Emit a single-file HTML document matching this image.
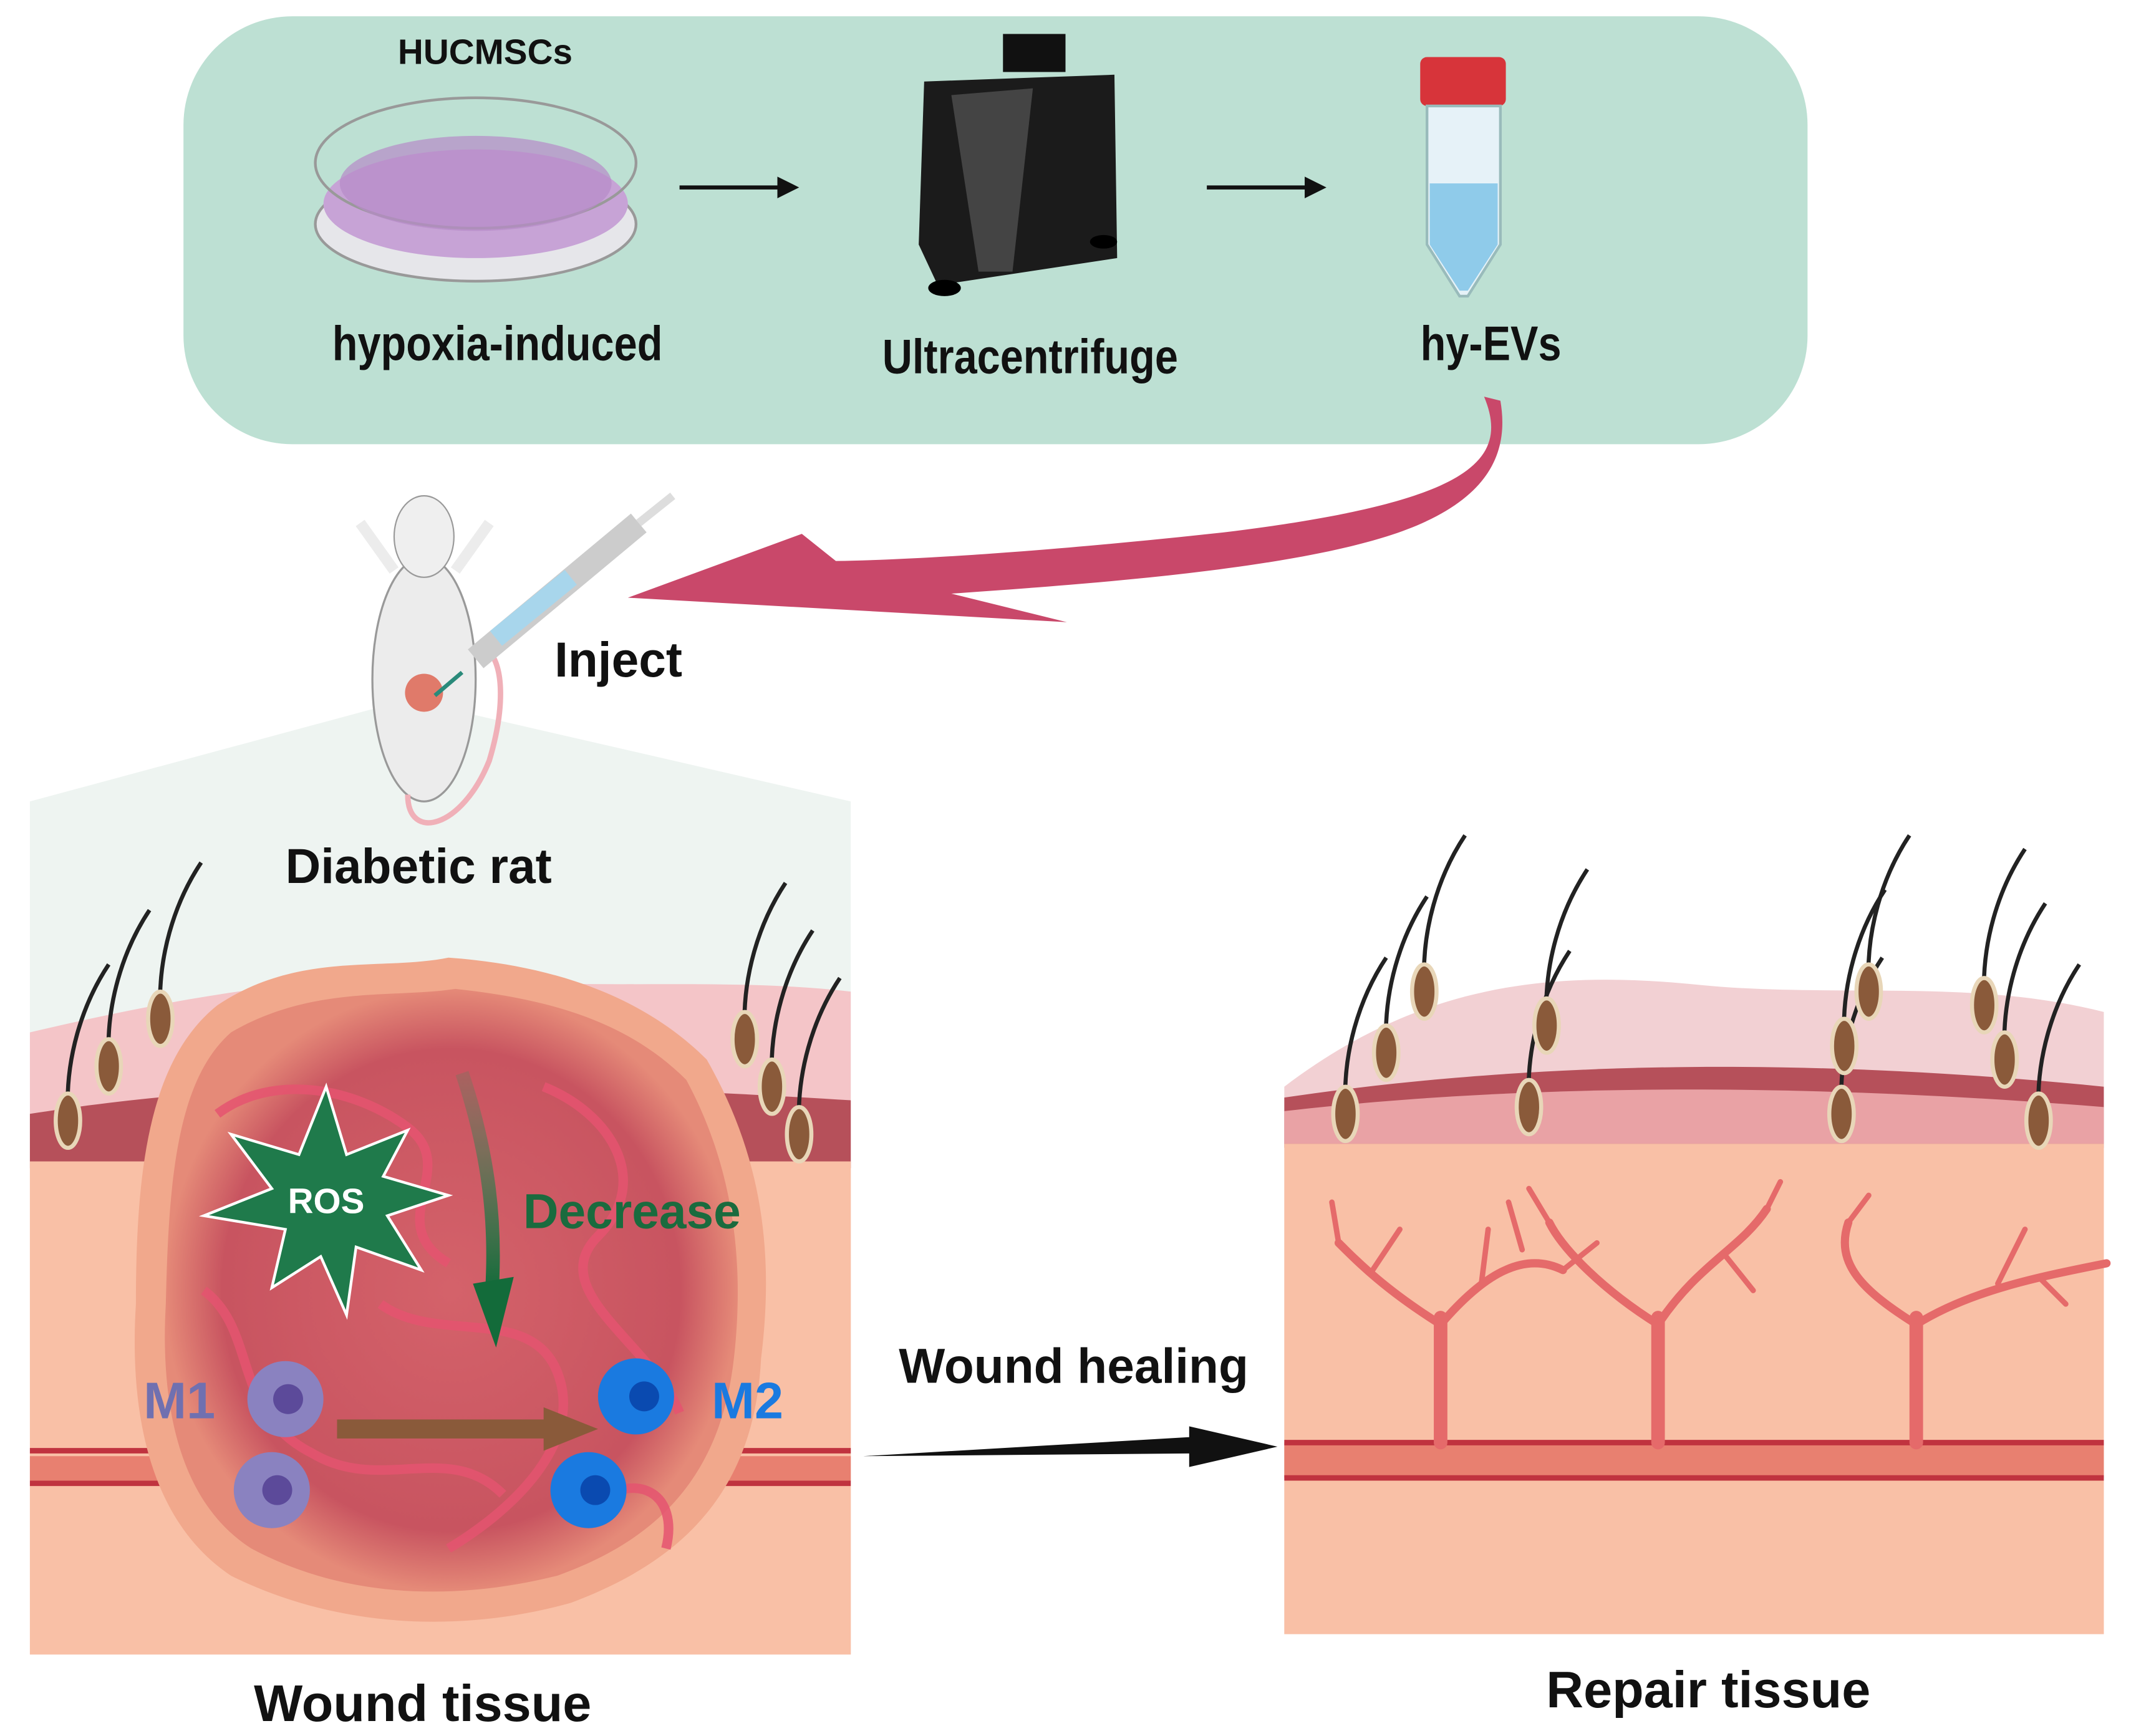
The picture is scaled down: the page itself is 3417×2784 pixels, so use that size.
<!DOCTYPE html>
<html><head><meta charset="utf-8"><style>
html,body{margin:0;padding:0;background:#fff}
svg{display:block}
text{font-family:"Liberation Sans",sans-serif;font-weight:bold}
</style></head><body>
<svg width="3417" height="2784" viewBox="0 0 1568 1278" preserveAspectRatio="none" xmlns="http://www.w3.org/2000/svg">
<defs>
<linearGradient id="gr" x1="0" y1="0" x2="0" y2="1"><stop offset="0" stop-color="#2f8f5a" stop-opacity="0.2"/><stop offset="1" stop-color="#136b3a"/></linearGradient>
<radialGradient id="wd" cx="0.5" cy="0.5" r="0.5"><stop offset="0" stop-color="#d4626a"/><stop offset="0.8" stop-color="#c85460"/><stop offset="1" stop-color="#e58a78"/></radialGradient>
<g id="hair"><path d="M0,0 C-2,-40 10,-80 30,-110" stroke="#222" stroke-width="3" fill="none"/><ellipse cx="0" cy="5" rx="9" ry="20" fill="#8a5a3a" stroke="#e8d6b8" stroke-width="3"/></g>
</defs>
<rect x="135" y="12" width="1195" height="315" rx="80" fill="#bde0d3"/>
<text x="357" y="47" font-size="26" text-anchor="middle" fill="#111">HUCMSCs</text>
<ellipse cx="350" cy="165" rx="118" ry="42" fill="#e6e6ea" stroke="#999" stroke-width="2"/>
<ellipse cx="350" cy="150" rx="112" ry="40" fill="#c7a3d6"/>
<ellipse cx="350" cy="120" rx="118" ry="48" fill="none" stroke="#999" stroke-width="2"/>
<ellipse cx="350" cy="135" rx="100" ry="35" fill="#b68ac8" opacity="0.7"/>
<text x="366" y="264" font-size="34" text-anchor="middle" fill="#111" transform="translate(366,-12) scale(0.9,1.05) translate(-366,0)">hypoxia-induced</text>
<path d="M500,138 H578" stroke="#111" stroke-width="3"/><path d="M588,138 L572,130 L572,146Z" fill="#111"/>
<path d="M888,138 H966" stroke="#111" stroke-width="3"/><path d="M976,138 L960,130 L960,146Z" fill="#111"/>
<rect x="738" y="25" width="46" height="28" fill="#111"/>
<path d="M680,60 L820,55 L822,190 L690,210 L676,180Z" fill="#1b1b1b"/>
<path d="M700,70 L760,65 L745,200 L720,200Z" fill="#444"/>
<ellipse cx="695" cy="212" rx="12" ry="6" fill="#000"/><ellipse cx="812" cy="178" rx="10" ry="5" fill="#000"/>
<text x="758" y="275" font-size="34" text-anchor="middle" fill="#111" transform="translate(758,-14) scale(0.9,1.05) translate(-758,0)">Ultracentrifuge</text>
<rect x="1045" y="42" width="63" height="36" rx="5" fill="#d7343a"/>
<path d="M1050,78 H1104 V180 L1080,218 L1074,218 L1050,180Z" fill="#e6f2f8" stroke="#9bb" stroke-width="2"/>
<path d="M1052,135 H1102 V180 L1080,214 L1074,214 L1052,180Z" fill="#8fcbea"/>
<text x="1097" y="264" font-size="34" text-anchor="middle" fill="#111" transform="translate(1097,-12) scale(0.9,1.05) translate(-1097,0)">hy-EVs</text>
<path d="M1092,292 C1112,340 1080,370 900,392 C780,405 680,412 615,413 L590,393 L462,440 L785,458 L700,437 C800,430 940,420 1020,395 C1100,370 1110,330 1104,295Z" fill="#c9486a"/>
<path d="M22,590 L300,515 L626,590 V1218 H22Z" fill="#eef4f1"/>
<ellipse cx="312" cy="500" rx="38" ry="90" fill="#ececec" stroke="#999" stroke-width="1.5"/>
<ellipse cx="312" cy="395" rx="22" ry="30" fill="#efefef" stroke="#999"/>
<circle cx="312" cy="510" r="14" fill="#e07a6a"/>
<path d="M300,585 C300,620 340,610 360,560 C372,520 370,490 360,480" stroke="#f0b0b8" stroke-width="4" fill="none"/>
<path d="M290,420 L265,385 M335,420 L360,385" stroke="#ececec" stroke-width="8"/>
<path d="M350,485 L470,385" stroke="#ccc" stroke-width="18"/>
<path d="M365,470 L420,425" stroke="#a8d6ec" stroke-width="14"/>
<path d="M470,385 L495,365" stroke="#ddd" stroke-width="6"/>
<path d="M340,495 L320,512" stroke="#2a8a7a" stroke-width="3"/>
<text x="455" y="498" font-size="36" text-anchor="middle" fill="#111">Inject</text>
<path d="M22,760 C150,730 250,715 350,722 C450,728 540,720 626,730 V1218 H22Z" fill="#f4c5c8"/>
<path d="M22,820 C150,800 300,790 626,810 V860 H22Z" fill="#b6505a"/>
<rect x="22" y="855" width="604" height="363" fill="#f9c0a6"/>
<path d="M22,1068 H626 M22,1092 H626" stroke="#c0333f" stroke-width="4"/>
<rect x="22" y="1072" width="604" height="18" fill="#e88070"/>
<path d="M160,740 C220,700 280,715 330,705 C400,710 470,730 520,780 C560,850 570,920 560,1000 C555,1100 500,1150 420,1180 C330,1205 240,1195 170,1160 C110,1120 95,1040 100,960 C100,860 110,780 160,740Z" fill="#f1a88c"/>
<path d="M170,760 C230,725 290,735 335,728 C400,735 460,750 505,795 C540,860 548,930 540,1000 C530,1090 480,1135 410,1160 C330,1180 250,1175 185,1140 C130,1105 118,1030 122,960 C124,870 130,795 170,760Z" fill="url(#wd)"/>
<g stroke="#e55470" stroke-width="7" fill="none" opacity="0.85">
<path d="M160,820 C200,790 260,800 300,830 C340,860 280,900 330,930"/>
<path d="M400,800 C450,820 480,870 440,910 C400,950 480,990 500,1040"/>
<path d="M150,950 C190,980 170,1040 230,1070 C280,1100 330,1060 370,1100"/>
<path d="M280,960 C320,990 390,960 410,1010 C430,1060 380,1110 330,1140"/>
<path d="M430,1110 C470,1080 500,1100 490,1140"/>
</g>
<use href="#hair" transform="translate(50,820)"/><use href="#hair" transform="translate(80,780)"/><use href="#hair" transform="translate(118,745)"/>
<use href="#hair" transform="translate(548,760)"/><use href="#hair" transform="translate(568,795)"/><use href="#hair" transform="translate(588,830)"/>
<path d="M240,800 L255,850 L300,832 L282,866 L330,880 L285,895 L310,935 L262,918 L255,968 L236,925 L200,948 L210,905 L150,895 L200,875 L170,835 L220,850Z" fill="#1f7a4b" stroke="#fff" stroke-width="2"/>
<text x="240" y="893" font-size="26" text-anchor="middle" fill="#fff">ROS</text>
<path d="M340,790 C360,850 365,900 362,950" stroke="url(#gr)" stroke-width="10" fill="none"/>
<path d="M348,945 L378,940 L365,992Z" fill="#136b3a"/>
<text x="465" y="904" font-size="36" text-anchor="middle" fill="#1a6b3e">Decrease</text>
<g fill="#8a82c0"><circle cx="210" cy="1030" r="28"/><circle cx="200" cy="1097" r="28"/></g>
<g fill="#5c4a9a"><circle cx="212" cy="1030" r="11"/><circle cx="204" cy="1097" r="11"/></g>
<g fill="#1a7ae0"><circle cx="468" cy="1028" r="28"/><circle cx="433" cy="1097" r="28"/></g>
<g fill="#0a4ab0"><circle cx="474" cy="1028" r="11"/><circle cx="438" cy="1097" r="11"/></g>
<text x="132" y="1044" font-size="38" text-anchor="middle" fill="#7070b0">M1</text>
<text x="550" y="1044" font-size="38" text-anchor="middle" fill="#1a7ae0">M2</text>
<path d="M248,1052 H405" stroke="#8a5a3a" stroke-width="14"/><path d="M440,1052 L400,1036 L400,1068Z" fill="#8a5a3a"/>
<text x="308" y="650" font-size="36" text-anchor="middle" fill="#111">Diabetic rat</text>
<text x="790" y="1018" font-size="36" text-anchor="middle" fill="#111">Wound healing</text>
<path d="M635,1072 L875,1058 L875,1050 L940,1065 L875,1080 L875,1070Z" fill="#111"/>
<path d="M945,800 C1050,720 1150,715 1250,725 C1350,735 1450,720 1548,745 V1203 H945Z" fill="#f2d0d3"/>
<path d="M945,808 C1100,785 1300,775 1548,800 V845 H945Z" fill="#b6505a"/>
<path d="M945,818 C1100,800 1300,795 1548,815 V842 H945Z" fill="#e9a2a5"/>
<rect x="945" y="842" width="603" height="361" fill="#f9c0a6"/>
<rect x="945" y="1062" width="603" height="26" fill="#e88070"/>
<path d="M945,1062 H1548 M945,1088 H1548" stroke="#c0333f" stroke-width="4"/>
<g stroke="#e56a6a" fill="none" stroke-linecap="round">
<path d="M1060,1062 V970 M1220,1062 V970 M1410,1062 V970" stroke-width="10"/>
<path d="M1060,975 C1020,950 1000,930 985,915 M1060,975 C1090,940 1120,920 1150,935 M1220,975 C1180,950 1150,920 1140,900 M1220,975 C1250,930 1280,920 1300,890 M1410,975 C1370,950 1350,930 1360,900 M1410,975 C1450,950 1500,940 1550,930" stroke-width="6"/>
<path d="M985,915 L980,885 M1010,935 L1030,905 M1150,935 L1175,915 M1120,920 L1110,885 M1140,900 L1125,875 M1300,890 L1310,870 M1270,925 L1290,950 M1360,900 L1375,880 M1470,945 L1490,905 M1500,940 L1520,960 M1090,945 L1095,905" stroke-width="4"/>
</g>
<use href="#hair" transform="translate(990,815)"/><use href="#hair" transform="translate(1020,770)"/><use href="#hair" transform="translate(1048,725)"/>
<use href="#hair" transform="translate(1125,810)"/><use href="#hair" transform="translate(1138,750)"/>
<use href="#hair" transform="translate(1355,815)"/><use href="#hair" transform="translate(1357,765)"/><use href="#hair" transform="translate(1375,725)"/>
<use href="#hair" transform="translate(1460,735)"/><use href="#hair" transform="translate(1475,775)"/><use href="#hair" transform="translate(1500,820)"/>
<text x="311" y="1267" font-size="38" text-anchor="middle" fill="#111">Wound tissue</text>
<text x="1257" y="1257" font-size="38" text-anchor="middle" fill="#111">Repair tissue</text>
</svg>
</body></html>
